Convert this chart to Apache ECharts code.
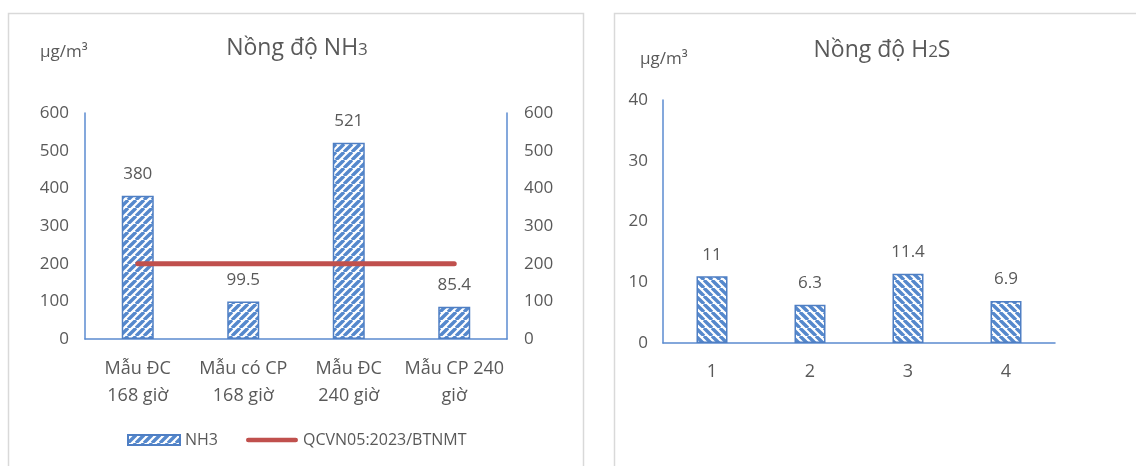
<!DOCTYPE html>
<html>
<head>
<meta charset="utf-8">
<script src="https://cdn.jsdelivr.net/npm/echarts@6/dist/echarts.min.js"></script>
<style>html,body{margin:0;padding:0;background:#fff}#c{width:1136px;height:466px}</style>
</head>
<body>
<div id="c"></div>
<script>
// ---- data ----
const nh3Categories = ['Mẫu ĐC\n168 giờ', 'Mẫu có CP\n168 giờ', 'Mẫu ĐC\n240 giờ', 'Mẫu CP 240\ngiờ'];
const nh3Values = [380, 99.5, 521, 85.4];
const qcvnValues = [200, 200, 200, 200];
const h2sCategories = ['1', '2', '3', '4'];
const h2sValues = [11, 6.3, 11.4, 6.9];
const nh3SeriesName = 'NH3';
const qcvnSeriesName = 'QCVN05:2023/BTNMT';

function stripe(dir) {
  const s = 8;
  const c = document.createElement('canvas');
  c.width = s; c.height = s;
  const g = c.getContext('2d');
  g.fillStyle = '#ffffff';
  g.fillRect(0, 0, s, s);
  g.strokeStyle = '#5588cc';
  g.lineWidth = 3.4;
  g.beginPath();
  for (let k = -1; k <= 1; k++) {
    if (dir > 0) { g.moveTo(k * s, s); g.lineTo(k * s + s, 0); }
    else { g.moveTo(k * s, 0); g.lineTo(k * s + s, s); }
  }
  g.stroke();
  return { image: c, repeat: 'repeat' };
}

const FONT = 'Open Sans';
const TXT = '#595959';
const AX = '#5b8bd0';

const chart = echarts.init(document.getElementById('c'), null, { renderer: 'canvas' });
chart.setOption({
  animation: false,
  textStyle: { fontFamily: FONT, color: TXT },
  graphic: [
    { type: 'rect', shape: { x: 8.5, y: 13.5, width: 575, height: 470 }, style: { fill: 'none', stroke: '#d9d9d9', lineWidth: 1.5 }, silent: true },
    { type: 'rect', shape: { x: 614.5, y: 13.5, width: 540, height: 470 }, style: { fill: 'none', stroke: '#d9d9d9', lineWidth: 1.5 }, silent: true },
    { type: 'text', left: 40, top: 44, style: { text: 'µg/m³', font: '17px "Open Sans"', fill: TXT } },
    { type: 'text', left: 640, top: 51, style: { text: 'µg/m³', font: '17px "Open Sans"', fill: TXT } }
  ],
  title: [
    { text: 'Nồng độ NH{s|3}', left: 292, top: 32, textAlign: 'center',
      textStyle: { fontFamily: FONT, fontSize: 23, fontWeight: 'normal', color: TXT, rich: { s: { fontFamily: FONT, fontSize: 17, color: TXT, padding: [3, 0, 0, 0] } } } },
    { text: 'Nồng độ H{s|2}S', left: 877, top: 34, textAlign: 'center',
      textStyle: { fontFamily: FONT, fontSize: 23, fontWeight: 'normal', color: TXT, rich: { s: { fontFamily: FONT, fontSize: 17, color: TXT, padding: [3, 0, 0, 0] } } } }
  ],
  legend: {
    left: 122, top: 427,
    itemWidth: 52, itemHeight: 10, itemGap: 28,
    symbolKeepAspect: true,
    textStyle: { fontFamily: FONT, fontSize: 16, color: TXT },
    data: [
      { name: nh3SeriesName, icon: 'rect' },
      { name: qcvnSeriesName, icon: 'path://M2.5,0 L52.5,0 A2.5,2.5 0 0 1 52.5,5 L2.5,5 A2.5,2.5 0 0 1 2.5,0 Z' }
    ]
  },
  grid: [
    { left: 85, right: 629, top: 113, bottom: 127 },
    { left: 663, right: 81, top: 100, bottom: 123 }
  ],
  xAxis: [
    { type: 'category', gridIndex: 0, data: nh3Categories,
      axisLine: { lineStyle: { color: AX, width: 1.5 } }, axisTick: { show: false },
      axisLabel: { color: TXT, fontFamily: FONT, fontSize: 18, lineHeight: 27, margin: 16, interval: 0 } },
    { type: 'category', gridIndex: 1, data: h2sCategories,
      axisLine: { lineStyle: { color: AX, width: 1.5 } }, axisTick: { show: false },
      axisLabel: { color: TXT, fontFamily: FONT, fontSize: 18, margin: 20 } }
  ],
  yAxis: [
    { type: 'value', gridIndex: 0, min: 0, max: 600, interval: 100, position: 'left',
      axisLine: { show: true, lineStyle: { color: AX, width: 1.5 } }, axisTick: { show: false }, splitLine: { show: false },
      axisLabel: { color: TXT, fontFamily: FONT, fontSize: 17, margin: 16 } },
    { type: 'value', gridIndex: 0, min: 0, max: 600, interval: 100, position: 'right',
      axisLine: { show: true, lineStyle: { color: AX, width: 1.5 } }, axisTick: { show: false }, splitLine: { show: false },
      axisLabel: { color: TXT, fontFamily: FONT, fontSize: 17, margin: 17 } },
    { type: 'value', gridIndex: 1, min: 0, max: 40, interval: 10,
      axisLine: { show: true, lineStyle: { color: AX, width: 1.5 } }, axisTick: { show: false }, splitLine: { show: false },
      axisLabel: { color: TXT, fontFamily: FONT, fontSize: 17, margin: 15 } }
  ],
  series: [
    { name: nh3SeriesName, type: 'bar', xAxisIndex: 0, yAxisIndex: 0, data: nh3Values, barWidth: 32,
      itemStyle: { color: stripe(1), borderColor: '#4f7fc4', borderWidth: 1.5 },
      label: { show: true, position: 'top', distance: 13, color: TXT, fontFamily: FONT, fontSize: 17 } },
    { name: qcvnSeriesName, type: 'line', xAxisIndex: 0, yAxisIndex: 0, data: qcvnValues, symbol: 'none',
      lineStyle: { color: '#c0504d', width: 5, cap: 'round' }, itemStyle: { color: '#c0504d' }, z: 5 },
    { name: 'H2S', type: 'bar', xAxisIndex: 1, yAxisIndex: 2, data: h2sValues, barWidth: 31,
      itemStyle: { color: stripe(-1), borderColor: '#4f7fc4', borderWidth: 1.5 },
      label: { show: true, position: 'top', distance: 13, color: TXT, fontFamily: FONT, fontSize: 17 } }
  ]
});
</script>
</body>
</html>
